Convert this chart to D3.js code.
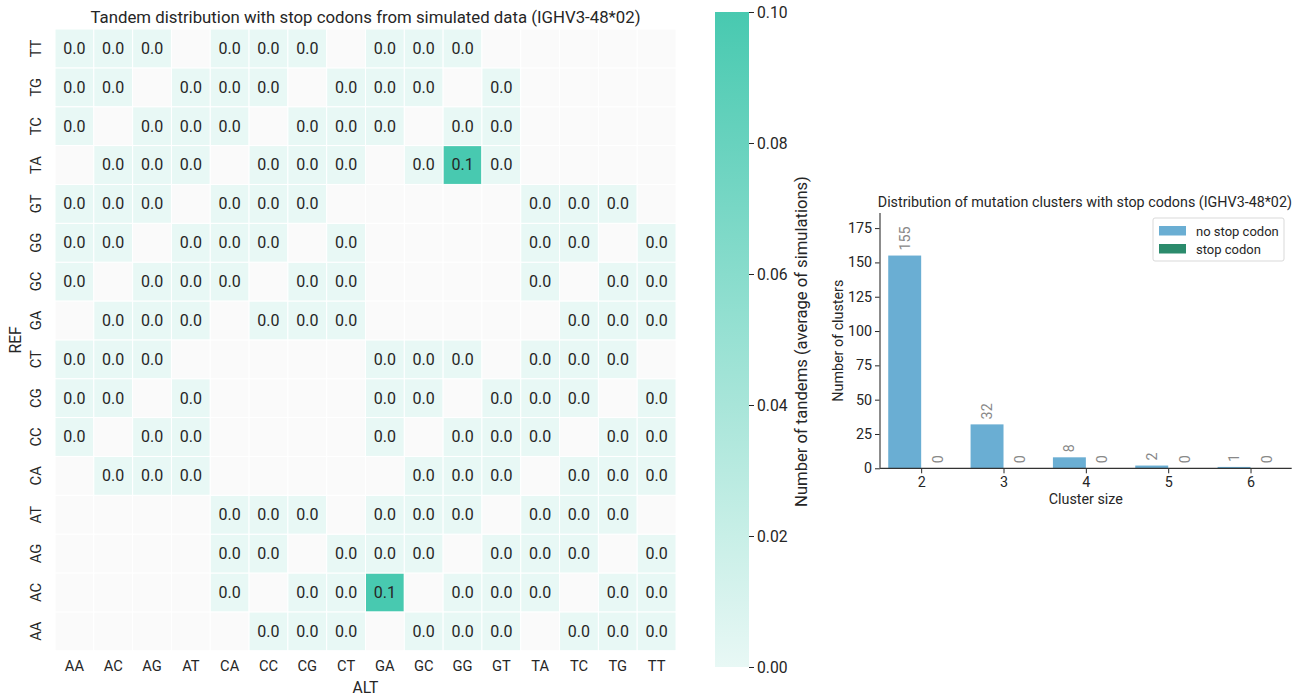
<!DOCTYPE html>
<html>
<head>
<meta charset="utf-8">
<script src="https://cdn.jsdelivr.net/npm/d3@7"></script>
<style>
  html, body { margin: 0; padding: 0; background: #fff; }
  svg { display: block; font-family: Roboto, "Noto Sans", sans-serif; }
</style>
</head>
<body>
<svg id="chart" width="1306" height="699"></svg>
<script>
// ---------- DATA ----------
const altLabels = ["AA","AC","AG","AT","CA","CC","CG","CT","GA","GC","GG","GT","TA","TC","TG","TT"];
const refLabels = ["AA","AC","AG","AT","CA","CC","CG","CT","GA","GC","GG","GT","TA","TC","TG","TT"];
const N = null;
// rows follow refLabels order, columns follow altLabels order
const tandemValues = [
  [N,N,N,N,N,0,0,0,N,0,0,0,N,0,0,0],      // AA
  [N,N,N,N,0,N,0,0,0.1,N,0,0,0,N,0,0],    // AC
  [N,N,N,N,0,0,N,0,0,0,N,0,0,0,N,0],      // AG
  [N,N,N,N,0,0,0,N,0,0,0,N,0,0,0,N],      // AT
  [N,0,0,0,N,N,N,N,N,0,0,0,N,0,0,0],      // CA
  [0,N,0,0,N,N,N,N,0,N,0,0,0,N,0,0],      // CC
  [0,0,N,0,N,N,N,N,0,0,N,0,0,0,N,0],      // CG
  [0,0,0,N,N,N,N,N,0,0,0,N,0,0,0,N],      // CT
  [N,0,0,0,N,0,0,0,N,N,N,N,N,0,0,0],      // GA
  [0,N,0,0,0,N,0,0,N,N,N,N,0,N,0,0],      // GC
  [0,0,N,0,0,0,N,0,N,N,N,N,0,0,N,0],      // GG
  [0,0,0,N,0,0,0,N,N,N,N,N,0,0,0,N],      // GT
  [N,0,0,0,N,0,0,0,N,0,0.1,0,N,N,N,N],    // TA
  [0,N,0,0,0,N,0,0,0,N,0,0,N,N,N,N],      // TC
  [0,0,N,0,0,0,N,0,0,0,N,0,N,N,N,N],      // TG
  [0,0,0,N,0,0,0,N,0,0,0,N,N,N,N,N]       // TT
];
const colorTicks = [0, 0.02, 0.04, 0.06, 0.08, 0.10];

const clusterSizes = ["2","3","4","5","6"];
const noStopCounts = [155, 32, 8, 2, 1];
const stopCounts = [0, 0, 0, 0, 0];
const seriesNames = ["no stop codon", "stop codon"];
const barTicks = [0, 25, 50, 75, 100, 125, 150, 175];

// ---------- SETUP ----------
const svg = d3.select("#chart");
const textColor = "#262626";

// ---------- HEATMAP ----------
const hm = { left: 55, top: 29, width: 621, height: 621.7 };
const x = d3.scaleBand().domain(altLabels).range([hm.left, hm.left + hm.width]);
const y = d3.scaleBand().domain(refLabels.slice().reverse()).range([hm.top, hm.top + hm.height]);
const color = d3.scaleLinear().domain([0, 0.1]).range(["#e8f8f5", "#48c9b0"]).interpolate(d3.interpolateRgb).clamp(true);

const cells = [];
refLabels.forEach((r, i) => altLabels.forEach((a, j) => cells.push({ ref: r, alt: a, v: tandemValues[i][j] })));

const gHm = svg.append("g");
gHm.selectAll("rect.cell").data(cells).join("rect")
  .attr("class", "cell")
  .attr("x", d => x(d.alt)).attr("y", d => y(d.ref))
  .attr("width", x.bandwidth()).attr("height", y.bandwidth())
  .attr("fill", d => d.v === null ? "#fafafa" : color(d.v))
  .attr("stroke", "#ffffff").attr("stroke-width", 1);

gHm.selectAll("text.val").data(cells.filter(d => d.v !== null)).join("text")
  .attr("class", "val")
  .attr("x", d => x(d.alt) + x.bandwidth() / 2)
  .attr("y", d => y(d.ref) + y.bandwidth() / 2)
  .attr("text-anchor", "middle").attr("dominant-baseline", "central")
  .attr("font-size", 16).attr("fill", textColor)
  .text(d => d3.format(".1f")(d.v));

// x tick labels
const xAxis = d3.axisBottom(x).tickSize(0).tickPadding(10);
const gx = svg.append("g").attr("transform", `translate(0,${hm.top + hm.height})`).call(xAxis);
gx.select(".domain").remove();
gx.selectAll("text").attr("font-size", 14.7).attr("fill", textColor).attr("font-family", "Roboto, sans-serif");

// y tick labels (rotated)
const gy = svg.append("g");
gy.selectAll("text").data(refLabels).join("text")
  .attr("transform", d => `translate(36,${y(d) + y.bandwidth() / 2}) rotate(-90)`)
  .attr("text-anchor", "middle").attr("dominant-baseline", "central")
  .attr("font-size", 14.7).attr("fill", textColor)
  .text(d => d);

svg.append("text").attr("x", hm.left + hm.width / 2).attr("y", 17)
  .attr("text-anchor", "middle").attr("dominant-baseline", "central")
  .attr("font-size", 16.8).attr("fill", textColor)
  .text("Tandem distribution with stop codons from simulated data (IGHV3-48*02)");
svg.append("text").attr("x", hm.left + hm.width / 2).attr("y", 687)
  .attr("text-anchor", "middle").attr("dominant-baseline", "central")
  .attr("font-size", 15.7).attr("fill", textColor).text("ALT");
svg.append("text").attr("transform", `translate(15,${hm.top + hm.height / 2}) rotate(-90)`)
  .attr("text-anchor", "middle").attr("dominant-baseline", "central")
  .attr("font-size", 15.7).attr("fill", textColor).text("REF");

// ---------- COLORBAR ----------
const cb = { left: 715, width: 34, top: 12, bottom: 667 };
const cbScale = d3.scaleLinear().domain([0, 0.1]).range([cb.bottom, cb.top]);
const defs = svg.append("defs");
const grad = defs.append("linearGradient").attr("id", "cbgrad")
  .attr("x1", 0).attr("y1", 1).attr("x2", 0).attr("y2", 0);
grad.selectAll("stop").data(d3.range(0, 1.0001, 0.1)).join("stop")
  .attr("offset", d => d).attr("stop-color", d => color(d * 0.1));
svg.append("rect").attr("x", cb.left).attr("y", cb.top).attr("width", cb.width)
  .attr("height", cb.bottom - cb.top).attr("fill", "url(#cbgrad)");
const cbAxis = d3.axisRight(cbScale).tickValues(colorTicks).tickFormat(d3.format(".2f")).tickSize(5).tickPadding(3);
const gcb = svg.append("g").attr("transform", `translate(${cb.left + cb.width},0)`).call(cbAxis);
gcb.select(".domain").remove();
gcb.selectAll("line").attr("stroke", textColor);
gcb.selectAll("text").attr("font-size", 15.7).attr("fill", textColor).attr("font-family", "Roboto, sans-serif");
svg.append("text").attr("transform", `translate(801,${(cb.top + cb.bottom) / 2 + 2}) rotate(-90)`)
  .attr("text-anchor", "middle").attr("dominant-baseline", "central")
  .attr("font-size", 16.6).attr("fill", textColor)
  .text("Number of tandems (average of simulations)");

// ---------- BAR CHART ----------
const bc = { left: 880, right: 1291.7, top: 213, bottom: 468.3 };
const xb = d3.scaleBand().domain(clusterSizes).range([bc.left, bc.right]).paddingInner(0.2).paddingOuter(0.1);
const yb = d3.scaleLinear().domain([0, 186]).range([bc.bottom, bc.top]);
const xs = d3.scaleBand().domain(seriesNames).range([0, xb.bandwidth()]);
const seriesColors = ["#6aaed3", "#2b8b6c"];
const barData = [];
clusterSizes.forEach((c, i) => {
  barData.push({ c, s: seriesNames[0], v: noStopCounts[i], col: seriesColors[0] });
  barData.push({ c, s: seriesNames[1], v: stopCounts[i], col: seriesColors[1] });
});
const gb = svg.append("g");
gb.selectAll("rect").data(barData).join("rect")
  .attr("x", d => xb(d.c) + xs(d.s)).attr("y", d => yb(d.v))
  .attr("width", xs.bandwidth()).attr("height", d => yb(0) - yb(d.v))
  .attr("fill", d => d.col);
gb.selectAll("text.lbl").data(barData).join("text")
  .attr("class", "lbl")
  .attr("transform", d => `translate(${xb(d.c) + xs(d.s) + xs.bandwidth() / 2},${yb(d.v) - 5}) rotate(-90)`)
  .attr("text-anchor", "start").attr("dominant-baseline", "central")
  .attr("font-size", 14.3).attr("fill", "#888888")
  .text(d => d.v);

const xbAxis = d3.axisBottom(d3.scalePoint().domain(clusterSizes).range([xb(clusterSizes[0]) + xb.bandwidth() / 2, xb(clusterSizes[4]) + xb.bandwidth() / 2]))
  .tickSize(5).tickPadding(4);
const gxb = svg.append("g").attr("transform", `translate(0,${bc.bottom})`).call(xbAxis);
gxb.select(".domain").remove();
gxb.selectAll("line").attr("stroke", textColor);
gxb.selectAll("text").attr("font-size", 14.3).attr("fill", textColor).attr("font-family", "Roboto, sans-serif");
svg.append("line").attr("x1", bc.left).attr("x2", bc.right).attr("y1", bc.bottom).attr("y2", bc.bottom)
  .attr("stroke", "#333").attr("stroke-width", 1.2);

const ybAxis = d3.axisLeft(yb).tickValues(barTicks).tickSize(5).tickPadding(3);
const gyb = svg.append("g").attr("transform", `translate(${bc.left},0)`).call(ybAxis);
gyb.select(".domain").remove();
gyb.selectAll("line").attr("stroke", textColor);
gyb.selectAll("text").attr("font-size", 14.3).attr("fill", textColor).attr("font-family", "Roboto, sans-serif");
svg.append("line").attr("x1", bc.left).attr("x2", bc.left).attr("y1", bc.top).attr("y2", bc.bottom)
  .attr("stroke", "#666").attr("stroke-width", 1.5);

svg.append("text").attr("x", (bc.left + bc.right) / 2 - 1).attr("y", 202)
  .attr("text-anchor", "middle").attr("dominant-baseline", "central")
  .attr("font-size", 14.3).attr("fill", textColor)
  .text("Distribution of mutation clusters with stop codons (IGHV3-48*02)");
svg.append("text").attr("x", (bc.left + bc.right) / 2).attr("y", 499)
  .attr("text-anchor", "middle").attr("dominant-baseline", "central")
  .attr("font-size", 14.3).attr("fill", textColor).text("Cluster size");
svg.append("text").attr("transform", `translate(838,${(bc.top + bc.bottom) / 2}) rotate(-90)`)
  .attr("text-anchor", "middle").attr("dominant-baseline", "central")
  .attr("font-size", 14.3).attr("fill", textColor).text("Number of clusters");

// legend
const lg = svg.append("g").attr("transform", "translate(1153,218)");
lg.append("rect").attr("width", 131).attr("height", 43).attr("rx", 2)
  .attr("fill", "#fff").attr("fill-opacity", 0.8).attr("stroke", "#d9d9d9");
seriesNames.forEach((s, i) => {
  lg.append("rect").attr("x", 6).attr("y", 8 + i * 18).attr("width", 27).attr("height", 9.5).attr("fill", seriesColors[i]);
  lg.append("text").attr("x", 43).attr("y", 13 + i * 18).attr("dominant-baseline", "central")
    .attr("font-size", 13).attr("fill", textColor).text(s);
});
</script>
</body>
</html>
